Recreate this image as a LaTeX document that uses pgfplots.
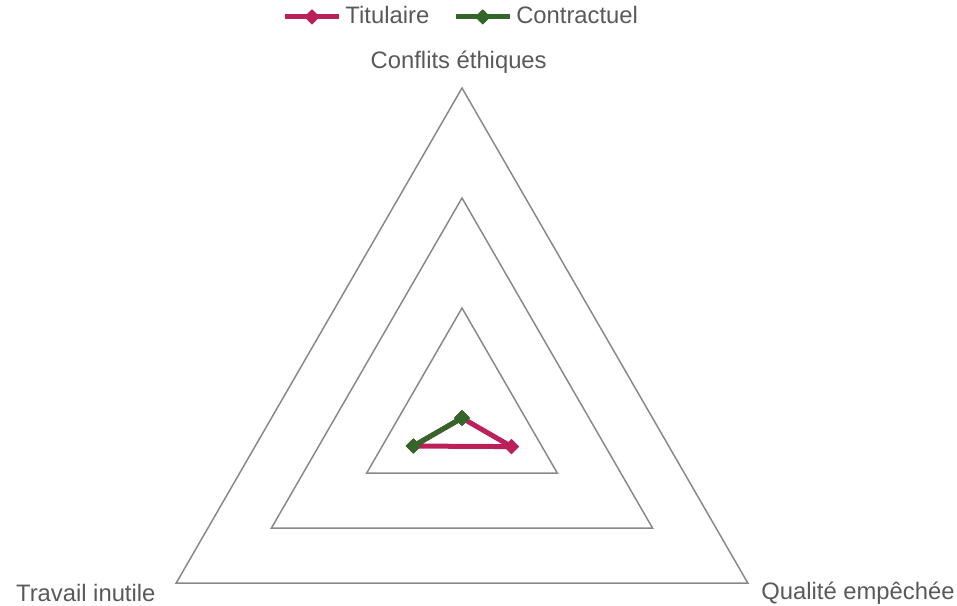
\documentclass[border=0pt]{standalone}
\usepackage{pgfplots}
\pgfplotsset{compat=1.18}
\usepackage{fontspec}
\setmainfont{Liberation Sans}
\definecolor{titu}{RGB}{187,32,90}
\definecolor{contr}{RGB}{52,102,42}
\definecolor{gridc}{RGB}{137,137,137}
\definecolor{txt}{RGB}{89,89,89}
\begin{document}
\fontsize{11.9}{14}\selectfont
\begin{tikzpicture}
\path[use as bounding box] (0,0) rectangle (478.5pt,302.5pt);
\begin{axis}[
    at={(0,0)}, anchor=south west,
    scale only axis,
    width=478.5pt,
    height=302.5pt,
    xmin=-4.2, xmax=4.5,
    ymin=-1.7, ymax=3.8,
    hide axis,
    clip=false,
    legend columns=2,
    legend style={draw=none, fill=none, at={(0.483,0.972)}, anchor=center,
        font=\color{txt}, /tikz/every even column/.append style={column sep=10pt},
        inner sep=0pt},
    legend image code/.code={\draw[mark repeat=2, mark phase=2]
        plot coordinates {(0pt,0pt) (13.5pt,0pt) (27pt,0pt)};},
]
% grille triangulaire
\addplot[gridc, line width=0.75pt, data cs=polar, forget plot] coordinates {(90,1) (-30,1) (210,1) (90,1) (-30,1)};
\addplot[gridc, line width=0.75pt, data cs=polar, forget plot] coordinates {(90,2) (-30,2) (210,2) (90,2) (-30,2)};
\addplot[gridc, line width=0.75pt, data cs=polar, forget plot] coordinates {(90,3) (-30,3) (210,3) (90,3) (-30,3)};
% séries
\addplot[titu, line width=2.5pt, line join=round, mark=square*, mark size=2.5pt,
    mark options={rotate=45, line width=0.5pt}, data cs=polar] coordinates {
    (90,0.0) (-30,0.52) (210,0.51) (90,0.0)
};
\addlegendentry{Titulaire}
\addplot[contr, line width=2.5pt, line join=round, mark=square*, mark size=2.5pt,
    mark options={rotate=45, line width=0.5pt}, data cs=polar] coordinates {
    (90,0.0) (-30,0.0) (210,0.51) (90,0.0)
};
\addlegendentry{Contractuel}
\node[txt] at (axis cs:-0.03,3.23) {Conflits éthiques};
\node[txt] at (axis cs:-3.42,-1.59) {Travail inutile};
\node[txt] at (axis cs:3.6,-1.59) {Qualité empêchée};
\end{axis}
\end{tikzpicture}
\end{document}
